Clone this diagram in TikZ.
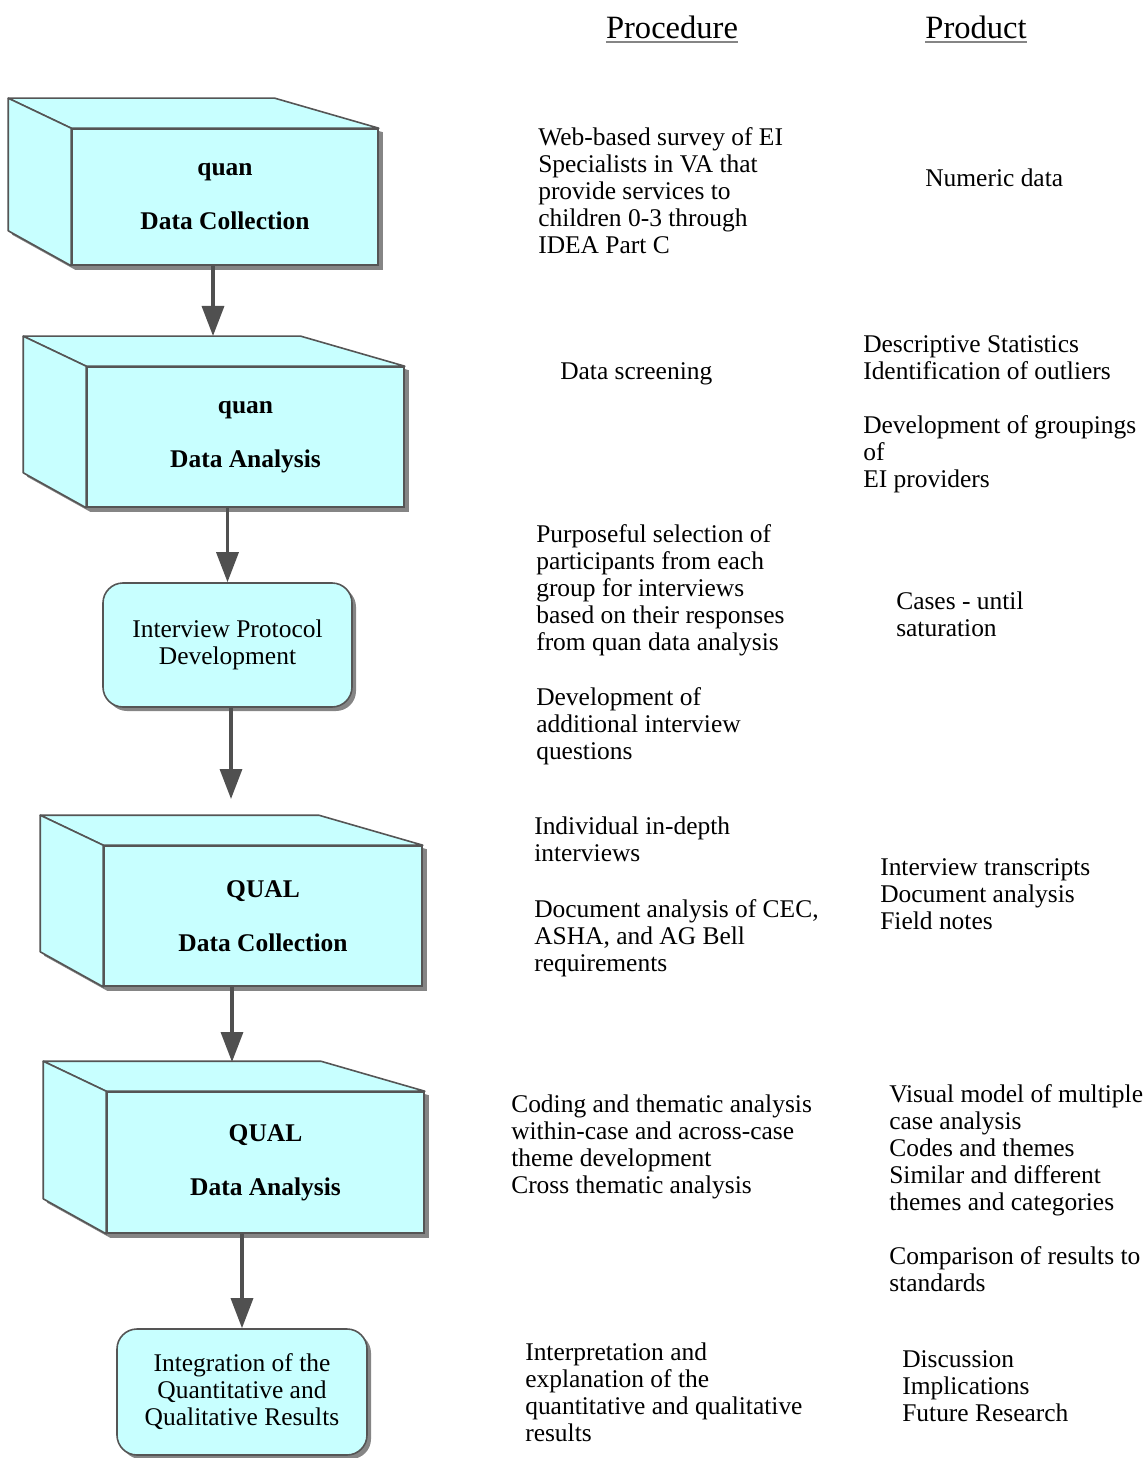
\documentclass[tikz,border=0pt]{standalone}
\usepackage{fontspec}
\setmainfont{Liberation Serif}
\usetikzlibrary{arrows.meta,shadows,backgrounds}
\definecolor{boxfill}{HTML}{C8FFFF}
\definecolor{edge}{HTML}{555555}
\definecolor{arrowgray}{HTML}{505050}
\definecolor{shadowgray}{HTML}{858585}
\tikzset{
  front/.style={draw=edge, line width=1.2pt, fill=boxfill, font=\fontsize{19.1}{20.25}\selectfont\bfseries, align=center, inner sep=0pt},
  face/.style={draw=edge, line width=1.2pt, fill=boxfill, line join=round},
  roundbox/.style={draw=edge, line width=1.2pt, fill=boxfill, rounded corners=15pt, align=center, inner sep=0pt,
    drop shadow={shadow xshift=3pt, shadow yshift=-3pt, fill=shadowgray, opacity=1}},
  flow/.style={->, draw=arrowgray, fill=arrowgray, line width=2.5pt},
  txt/.style={anchor=north west, inner sep=0pt, align=left, yshift=6.75pt},
  hdr/.style={inner sep=0pt, font=\fontsize{24.4}{28}\selectfont},
  uline/.style={draw=shadowgray, line width=1.8pt}
}
\begin{document}
\begin{tikzpicture}[x=0.75pt, y=-0.75pt, font=\fontsize{19.1}{20.25}\selectfont, >={Triangle[width=16.5pt,length=22.5pt]}]
\useasboundingbox (0,0) rectangle (1147,1458);
% headings
\node[hdr] (proc) at (672,27) {Procedure};
\node[hdr] (prod) at (976,27) {Product};
\draw[uline] ([yshift=-3pt]proc.base west) -- ([yshift=-3pt]proc.base east);
\draw[uline] ([yshift=-3pt]prod.base west) -- ([yshift=-3pt]prod.base east);

% steps
\node[front, minimum width=229.5pt, minimum height=102pt] (qnDC) at (225,197) {quan\\[20.25pt]Data Collection};
\node[front, minimum width=237.75pt, minimum height=105pt] (qnDA) at (245.5,437) {quan\\[20.25pt]Data Analysis};
\node[roundbox, minimum width=186.75pt, minimum height=93pt] (ipd) at (227.5,645) {Interview Protocol\\Development};
\node[front, minimum width=238.5pt, minimum height=105pt] (qlDC) at (263,916) {QUAL\\[20.25pt]Data Collection};
\node[front, minimum width=237.75pt, minimum height=105.75pt] (qlDA) at (265.5,1162.5) {QUAL\\[20.25pt]Data Analysis};
\node[roundbox, minimum width=187.5pt, minimum height=94.5pt] (integ) at (242,1392) {Integration of the\\Quantitative and\\Qualitative Results};

% sides of the boxes
\begin{scope}[on background layer]
\foreach \b in {qnDC,qnDA,qlDC,qlDA}{
  \fill[shadowgray] ([shift={(-59,-26)}]\b.north west) -- ([shift={(-100,-26)}]\b.north east) -- ([shift={(4,4)}]\b.north east)
    -- ([shift={(4,4)}]\b.south east) -- ([shift={(4,4)}]\b.south west) -- ([shift={(-59,-31)}]\b.south west) -- cycle;
  \draw[face] (\b.north west) -- ([shift={(-63,-30)}]\b.north west) -- ([shift={(-104,-30)}]\b.north east) -- (\b.north east) -- cycle;
  \draw[face] (\b.north west) -- ([shift={(-63,-30)}]\b.north west) -- ([shift={(-63,-35)}]\b.south west) -- (\b.south west) -- cycle;
}
\end{scope}

% arrows
\coordinate (qnDAtop) at (213,336);
\coordinate (qlDCtop) at (231,799);
\coordinate (qlDAtop) at (232,1062);
\draw[flow] (qnDC.south -| qnDAtop) -- (qnDAtop);
\draw[flow] (qnDA.south -| ipd.north) -- (ipd.north);
\draw[flow] (ipd.south -| qlDCtop) -- (qlDCtop);
\draw[flow] (qlDC.south -| qlDAtop) -- (qlDAtop);
\draw[flow] (qlDA.south -| integ.north) -- (integ.north);

% procedure
\node[txt] (p1) at (538,136) {Web-based survey of EI\\Specialists in VA that\\provide services to\\children 0-3 through\\IDEA Part C};
\node[txt] (p2) at (560,371) {Data screening};
\node[txt] (p3) at (536,533) {Purposeful selection of\\participants from each\\group for interviews\\based on their responses\\from quan data analysis};
\node[txt] (p4) at (536,696) {Development of\\additional interview\\questions};
\node[txt] (p5) at (534,826) {Individual in-depth\\interviews};
\node[txt] (p6) at (534,908) {Document analysis of CEC,\\ASHA, and AG Bell\\requirements};
\node[txt] (p7) at (511,1104) {Coding and thematic analysis\\within-case and across-case\\theme development\\Cross thematic analysis};
\node[txt] (p8) at (525,1352) {Interpretation and\\explanation of the\\quantitative and qualitative\\results};

% product
\node[txt] (r1) at (925,178) {Numeric data};
\node[txt] (r2) at (863,344) {Descriptive Statistics\\Identification of outliers\\[20.25pt]Development of groupings\\of\\EI providers};
\node[txt] (r3) at (896,601) {Cases - until\\saturation};
\node[txt] (r4) at (880,867) {Interview transcripts\\Document analysis\\Field notes};
\node[txt] (r5) at (889,1093) {Visual model of multiple\\case analysis\\Codes and themes\\Similar and different\\themes and categories\\[20.25pt]Comparison of results to\\standards};
\node[txt] (r6) at (902,1359) {Discussion\\Implications\\Future Research};
\end{tikzpicture}
\end{document}
